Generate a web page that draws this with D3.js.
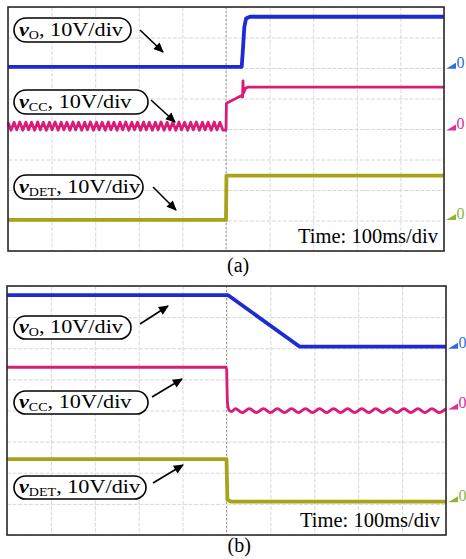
<!DOCTYPE html>
<html><head><meta charset="utf-8">
<script src="https://cdn.jsdelivr.net/npm/d3@7/dist/d3.min.js"></script>
<style>
html,body{margin:0;padding:0;background:#fff;}
svg{display:block;font-family:"Liberation Serif","Times New Roman",serif;}
</style></head>
<body><svg id="c" width="466" height="559"></svg>
<script>
// ---- data (time in ms, voltage in V, 10 V/div, 100 ms/div) ----
const timeTicks = [0,100,200,300,400,500,600,700,800,900,1000];
const divTicks = [0,1,2,3,4,5,6,7,8];
const channelNames = ["O","CC","DET"];
const scaleText = ", 10V/div";
const timeText = "Time: 100ms/div";
const captions = ["(a)","(b)"];

// panel (a): start-up
const vO_a = [[0,0],[536,0],[539,6],[542,13],[546,15.8],[555,16.4],[1000,16.4]];
const vCC_a = [[0,2.0],[7,-0.6],[14,2.0],[20,-0.5],[27,2.1],[34,-0.6],[41,2.0],[47,-0.5],[54,2.0],[61,-0.6],
  [68,2.1],[74,-0.5],[81,2.0],[88,-0.6],[95,2.0],[101,-0.5],[108,2.1],[115,-0.6],[122,2.0],[128,-0.5],
  [135,2.0],[142,-0.6],[149,2.1],[155,-0.5],[162,2.0],[169,-0.6],[176,2.0],[182,-0.5],[189,2.1],[196,-0.6],
  [203,2.0],[209,-0.5],[216,2.0],[223,-0.6],[230,2.1],[236,-0.5],[243,2.0],[250,-0.6],[257,2.0],[263,-0.5],
  [270,2.1],[277,-0.6],[284,2.0],[290,-0.5],[297,2.0],[304,-0.6],[311,2.1],[317,-0.5],[324,2.0],[331,-0.6],
  [338,2.0],[344,-0.5],[351,2.1],[358,-0.6],[365,2.0],[371,-0.5],[378,2.0],[385,-0.6],[392,2.1],[398,-0.5],
  [405,2.0],[412,-0.6],[419,2.0],[425,-0.5],[432,2.1],[439,-0.6],[446,2.0],[452,-0.5],[459,2.0],[466,-0.6],
  [473,2.1],[479,-0.5],[486,2.0],[493,-0.6],[500,-0.6],[501,8.2],[510,8.9],[520,9.6],[530,10.4],[536,10.8],
  [538,10.3],[539,15.6],[540,11.5],[545,13.2],[550,13.5],[1000,13.5]];
const vDET_a = [[0,-0.6],[500,-0.6],[501,13.9],[1000,13.9]];

// panel (b): shut-down
const vO_b = [[0,16.6],[503,16.6],[667,0],[1000,0]];
const vCC_b = [[0,12.9],[500,12.9],[502,2.0],[504,-0.2],[508,-1.2],[512,-1.3],[520,-0.4],[536,-1.7],[552,-0.4],
  [568,-1.7],[584,-0.4],[600,-1.7],[616,-0.4],[632,-1.7],[648,-0.4],[664,-1.7],[680,-0.4],[696,-1.7],[712,-0.4],
  [728,-1.7],[744,-0.4],[760,-1.7],[776,-0.4],[792,-1.7],[808,-0.4],[824,-1.7],[840,-0.4],[856,-1.7],[872,-0.4],
  [888,-1.7],[904,-0.4],[920,-1.7],[936,-0.4],[952,-1.7],[968,-0.4],[984,-1.7],[1000,-0.4]];
const vDET_b = [[0,13.2],[500,13.2],[502,0.2],[510,-0.5],[1000,-0.5]];

// ground-marker offsets (divisions above screen bottom)
const groundsA = [6.04, 4.02, 1.08];
const groundsB = [6.05, 4.1, 1.12];

// ---- drawing ----
const svg = d3.select("#c");
const traceColors = ["#1c2bd2","#d91c78","#a8a31a"];
const markerColors = ["#2a6fe0","#d8309c","#8cb53c"];

const defs = svg.append("defs");
defs.append("marker").attr("id","ah").attr("viewBox","0 0 10 10").attr("refX",9).attr("refY",5)
  .attr("markerWidth",12).attr("markerHeight",10).attr("markerUnits","userSpaceOnUse").attr("orient","auto")
  .append("path").attr("d","M0,0.5 L10,5 L0,9.5 Z").attr("fill","#000");

function panel(box, series, grounds, labels, caption){
  const g = svg.append("g");
  const x = d3.scaleLinear().domain([0,1000]).range([box.l, box.r]);
  const y = d3.scaleLinear().domain([0,8]).range([box.b, box.t]);
  g.append("rect").attr("x",box.l).attr("y",box.t).attr("width",box.r-box.l).attr("height",box.b-box.t).attr("fill","#fff");
  // grid via axes
  g.append("g").attr("transform",`translate(0,${box.b})`)
    .call(d3.axisBottom(x).tickValues(timeTicks).tickSize(box.b-box.t).tickFormat(""))
    .call(a=>{a.select(".domain").remove(); a.selectAll("line").attr("transform",`translate(0,${-(box.b-box.t)})`)
      .attr("stroke","#d8d8d8").attr("stroke-dasharray","4,1.5");});
  g.append("g").attr("transform",`translate(${box.l},0)`)
    .call(d3.axisRight(y).tickValues(divTicks).tickSize(box.r-box.l).tickFormat(""))
    .call(a=>{a.select(".domain").remove(); a.selectAll("line").attr("stroke","#d8d8d8").attr("stroke-dasharray","4,1.5");});
  g.append("line").attr("x1",x(500)).attr("x2",x(500)).attr("y1",box.t).attr("y2",box.b)
    .attr("stroke","#9a9a9a").attr("stroke-dasharray","2,2");
  // traces
  const widths = [3.8,2.8,3.8];
  series.forEach((s,i)=>{
    const line = d3.line().x(d=>x(d[0])).y(d=>y(grounds[i]+d[1]/10))
      .curve(s.smooth? d3.curveMonotoneX : d3.curveLinear);
    g.append("path").datum(s.data).attr("d",line).attr("fill","none")
      .attr("stroke",traceColors[i]).attr("stroke-width",s.w||widths[i]).attr("stroke-linejoin","round");
    // ground markers
    const gy = y(grounds[i]);
    g.append("path").attr("d",`M${box.r+2},${gy+2} L${box.r+12},${gy-4} L${box.r+12},${gy+2} Z`).attr("fill",markerColors[i]);
    g.append("text").attr("x",box.r+12.5).attr("y",gy+1).attr("font-size",16).attr("fill",markerColors[i]).text("0");
  });
  // frame
  g.append("rect").attr("x",box.l).attr("y",box.t).attr("width",box.r-box.l).attr("height",box.b-box.t)
    .attr("fill","none").attr("stroke","#2a2a2a").attr("stroke-width",1.6);
  // labels
  labels.forEach((lb,i)=>{
    g.append("rect").attr("x",lb.x).attr("y",lb.y).attr("width",lb.w).attr("height",lb.h)
      .attr("rx",lb.h/2).attr("fill","#fff").attr("stroke","#000").attr("stroke-width",1.6);
    const t = g.append("text")
      .attr("transform",`translate(${lb.x+5},${lb.y+lb.h-6}) scale(1.17,1)`).attr("font-size",19);
    t.append("tspan").attr("font-weight","bold").attr("font-style","italic").text("v");
    t.append("tspan").attr("font-size",12).attr("dy",3).text(channelNames[i]);
    t.append("tspan").attr("dy",-3).text(scaleText);
    g.append("line").attr("x1",lb.a[0]).attr("y1",lb.a[1]).attr("x2",lb.a[2]).attr("y2",lb.a[3])
      .attr("stroke","#000").attr("stroke-width",1.6).attr("marker-end","url(#ah)");
  });
  g.append("text").attr("x",box.r-6).attr("y",box.b-8).attr("text-anchor","end").attr("font-size",20.5).text(timeText);
  g.append("text").attr("x",x(500)+1).attr("y",caption.y).attr("font-size",20).text(caption.t);
}

panel({l:8,r:444,t:7,b:251},
  [{data:vO_a},{data:vCC_a},{data:vDET_a}], groundsA,
  [{x:14,y:18,w:117,h:24,a:[140,30,163,52]},
   {x:14,y:90,w:134,h:24,a:[151,100,175,122]},
   {x:14,y:175,w:129,h:24,a:[153,187,176,210]}],
  {t:captions[0],y:272});

panel({l:7,r:446,t:286,b:535},
  [{data:vO_b},{data:vCC_b,smooth:true},{data:vDET_b}], groundsB,
  [{x:14,y:316,w:117,h:23,a:[140,324,168,306]},
   {x:14,y:391,w:134,h:23,a:[152,397,182,379]},
   {x:14,y:476,w:132,h:23,a:[153,483,183,465]}],
  {t:captions[1],y:552});
</script></body></html>
